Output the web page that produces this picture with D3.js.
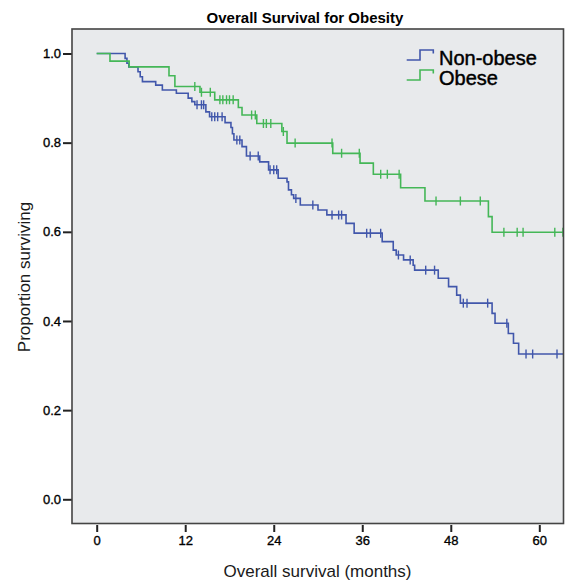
<!DOCTYPE html>
<html><head><meta charset="utf-8">
<script src="https://cdn.jsdelivr.net/npm/d3@7/dist/d3.min.js"></script>
<style>
html,body{margin:0;padding:0;background:#fff;}
svg{display:block;font-family:"Liberation Sans",Arial,sans-serif;}
</style></head>
<body><svg id="chart" width="572" height="583"></svg>
<script>
// ---- data ----
const title = "Overall Survival for Obesity";
const xLabel = "Overall survival (months)";
const yLabel = "Proportion surviving";
const xTicks = [0, 12, 24, 36, 48, 60];
const yTicks = [0.0, 0.2, 0.4, 0.6, 0.8, 1.0];
const seriesNames = ["Non-obese", "Obese"];

// Non-obese: event times (months) and survival after each drop
const nonObeseTimes = [0, 3.85, 4.1, 4.35, 5.6, 5.9, 6.2, 8.0, 8.9, 10.8, 12.4, 12.9, 13.3, 14.8, 15.3, 17.4, 18.2, 18.4, 18.6, 19.7, 20.3, 22.1, 23.3, 24.6, 25.8, 26.0, 26.4, 26.7, 27.6, 30.0, 31.2, 33.8, 34.9, 38.7, 40.2, 40.6, 41.6, 42.9, 43.1, 46.3, 47.7, 48.8, 49.3, 53.6, 54.0, 55.8, 56.5, 57.2];
const nonObeseSurv  = [1.0, 0.989, 0.978, 0.970, 0.959, 0.948, 0.937, 0.929, 0.918, 0.911, 0.900, 0.892, 0.885, 0.869, 0.858, 0.845, 0.834, 0.820, 0.806, 0.791, 0.770, 0.757, 0.739, 0.720, 0.712, 0.694, 0.683, 0.675, 0.660, 0.649, 0.638, 0.619, 0.597, 0.578, 0.559, 0.548, 0.537, 0.525, 0.514, 0.496, 0.477, 0.458, 0.440, 0.417, 0.395, 0.372, 0.350, 0.326];
const nonObeseCensored = [13.6, 14.2, 14.5, 15.6, 16.0, 16.4, 17.0, 19.0, 19.4, 20.8, 21.9, 23.5, 24.0, 24.4, 27.0, 29.3, 31.9, 32.8, 33.2, 36.6, 37.1, 38.5, 40.9, 42.5, 44.6, 45.8, 49.7, 50.2, 53.0, 55.6, 58.2, 59.1, 62.4];

// Obese
const obeseTimes = [0, 1.8, 4.4, 9.8, 10.6, 14.0, 16.0, 19.2, 19.7, 21.7, 25.1, 25.8, 32.0, 35.7, 37.5, 41.2, 44.5, 53.1, 53.6];
const obeseSurv  = [1.0, 0.983, 0.970, 0.950, 0.926, 0.913, 0.896, 0.879, 0.862, 0.843, 0.825, 0.799, 0.776, 0.754, 0.729, 0.699, 0.669, 0.634, 0.599];
const obeseCensored = [13.3, 14.2, 15.4, 16.7, 17.1, 17.6, 18.0, 18.5, 21.0, 21.5, 22.6, 23.0, 23.6, 25.3, 26.9, 31.9, 33.2, 35.6, 38.5, 39.4, 41.0, 46.0, 49.3, 52.0, 55.2, 57.0, 57.8, 62.1, 63.2];

const colors = ["#4157ab", "#44b757"];

// ---- layout ----
const svg = d3.select("#chart");
const frame = {left: 72, top: 29, right: 563.5, bottom: 523.5};
const x = d3.scaleLinear().domain([0, 60]).range([96.7, 539.3]);
const y = d3.scaleLinear().domain([0, 1]).range([499.3, 53.5]);
const xMax = x.invert(frame.right);

svg.append("defs").append("clipPath").attr("id", "clip")
  .append("rect").attr("x", frame.left).attr("y", frame.top)
  .attr("width", frame.right - frame.left).attr("height", frame.bottom - frame.top);

svg.append("rect").attr("x", frame.left).attr("y", frame.top)
  .attr("width", frame.right - frame.left).attr("height", frame.bottom - frame.top)
  .attr("fill", "#e8eaec");

// title
svg.append("text").attr("x", 305).attr("y", 23).attr("text-anchor", "middle")
  .attr("font-size", 15).attr("font-weight", "bold").attr("fill", "#000").text(title);

// y axis
const yAxis = d3.axisLeft(y).tickValues(yTicks).tickFormat(d3.format(".1f")).tickSize(9).tickPadding(2);
const gy = svg.append("g").attr("transform", `translate(${frame.left},0)`).call(yAxis);
gy.select(".domain").remove();
gy.selectAll(".tick line").attr("stroke", "#222").attr("stroke-width", 2);
gy.selectAll(".tick text").attr("font-size", 13).attr("fill", "#000")
  .attr("stroke", "#000").attr("stroke-width", 0.35)
  .attr("font-family", "Liberation Sans, Arial, sans-serif");

// x axis
const xAxis = d3.axisBottom(x).tickValues(xTicks).tickFormat(d3.format("d")).tickSize(7).tickPadding(4);
const gx = svg.append("g").attr("transform", `translate(0,${frame.bottom + 1.5})`).call(xAxis);
gx.select(".domain").remove();
gx.selectAll(".tick line").attr("stroke", "#222").attr("stroke-width", 2);
gx.selectAll(".tick text").attr("font-size", 13).attr("fill", "#000")
  .attr("stroke", "#000").attr("stroke-width", 0.35)
  .attr("font-family", "Liberation Sans, Arial, sans-serif");

// axis titles
svg.append("text").attr("x", 317.5).attr("y", 577).attr("text-anchor", "middle")
  .attr("font-size", 17).attr("fill", "#1a1a1a").text(xLabel);
svg.append("text").attr("transform", "translate(30,277) rotate(-90)").attr("text-anchor", "middle")
  .attr("font-size", 17).attr("fill", "#1a1a1a").text(yLabel);

// curves
const plot = svg.append("g").attr("clip-path", "url(#clip)");
const line = d3.line().x(d => x(d[0])).y(d => y(d[1])).curve(d3.curveStepAfter);
function survAt(times, surv, t) {
  let s = surv[0];
  for (let i = 0; i < times.length; i++) if (times[i] <= t) s = surv[i];
  return s;
}
const series = [
  {times: nonObeseTimes, surv: nonObeseSurv, cens: nonObeseCensored, color: colors[0]},
  {times: obeseTimes, surv: obeseSurv, cens: obeseCensored, color: colors[1]}
];
series.forEach(s => {
  const pts = s.times.map((t, i) => [t, s.surv[i]]);
  pts.push([xMax + 1, s.surv[s.surv.length - 1]]);
  plot.append("path").datum(pts).attr("d", line)
    .attr("fill", "none").attr("stroke", s.color).attr("stroke-width", 1.6);
  plot.selectAll(null).data(s.cens).enter().append("line")
    .attr("x1", d => x(d)).attr("x2", d => x(d))
    .attr("y1", d => y(survAt(s.times, s.surv, d)) - 4.5)
    .attr("y2", d => y(survAt(s.times, s.surv, d)) + 4.5)
    .attr("stroke", s.color).attr("stroke-width", 1.4);
});

// frame
svg.append("rect").attr("x", frame.left).attr("y", frame.top)
  .attr("width", frame.right - frame.left).attr("height", frame.bottom - frame.top)
  .attr("fill", "none").attr("stroke", "#444").attr("stroke-width", 1.6);

// legend
const legY = [60, 80];
seriesNames.forEach((name, i) => {
  const by = legY[i];
  svg.append("path")
    .attr("d", `M406.7,${by} H420 V${by - 10} H433.3 V${by - 6.5}`)
    .attr("fill", "none").attr("stroke", colors[i]).attr("stroke-width", 1.6);
  svg.append("text").attr("x", 439).attr("y", by + 5).attr("font-size", 20)
    .attr("fill", "#000").attr("stroke", "#000").attr("stroke-width", 0.45).text(name);
});
</script>
</body></html>
